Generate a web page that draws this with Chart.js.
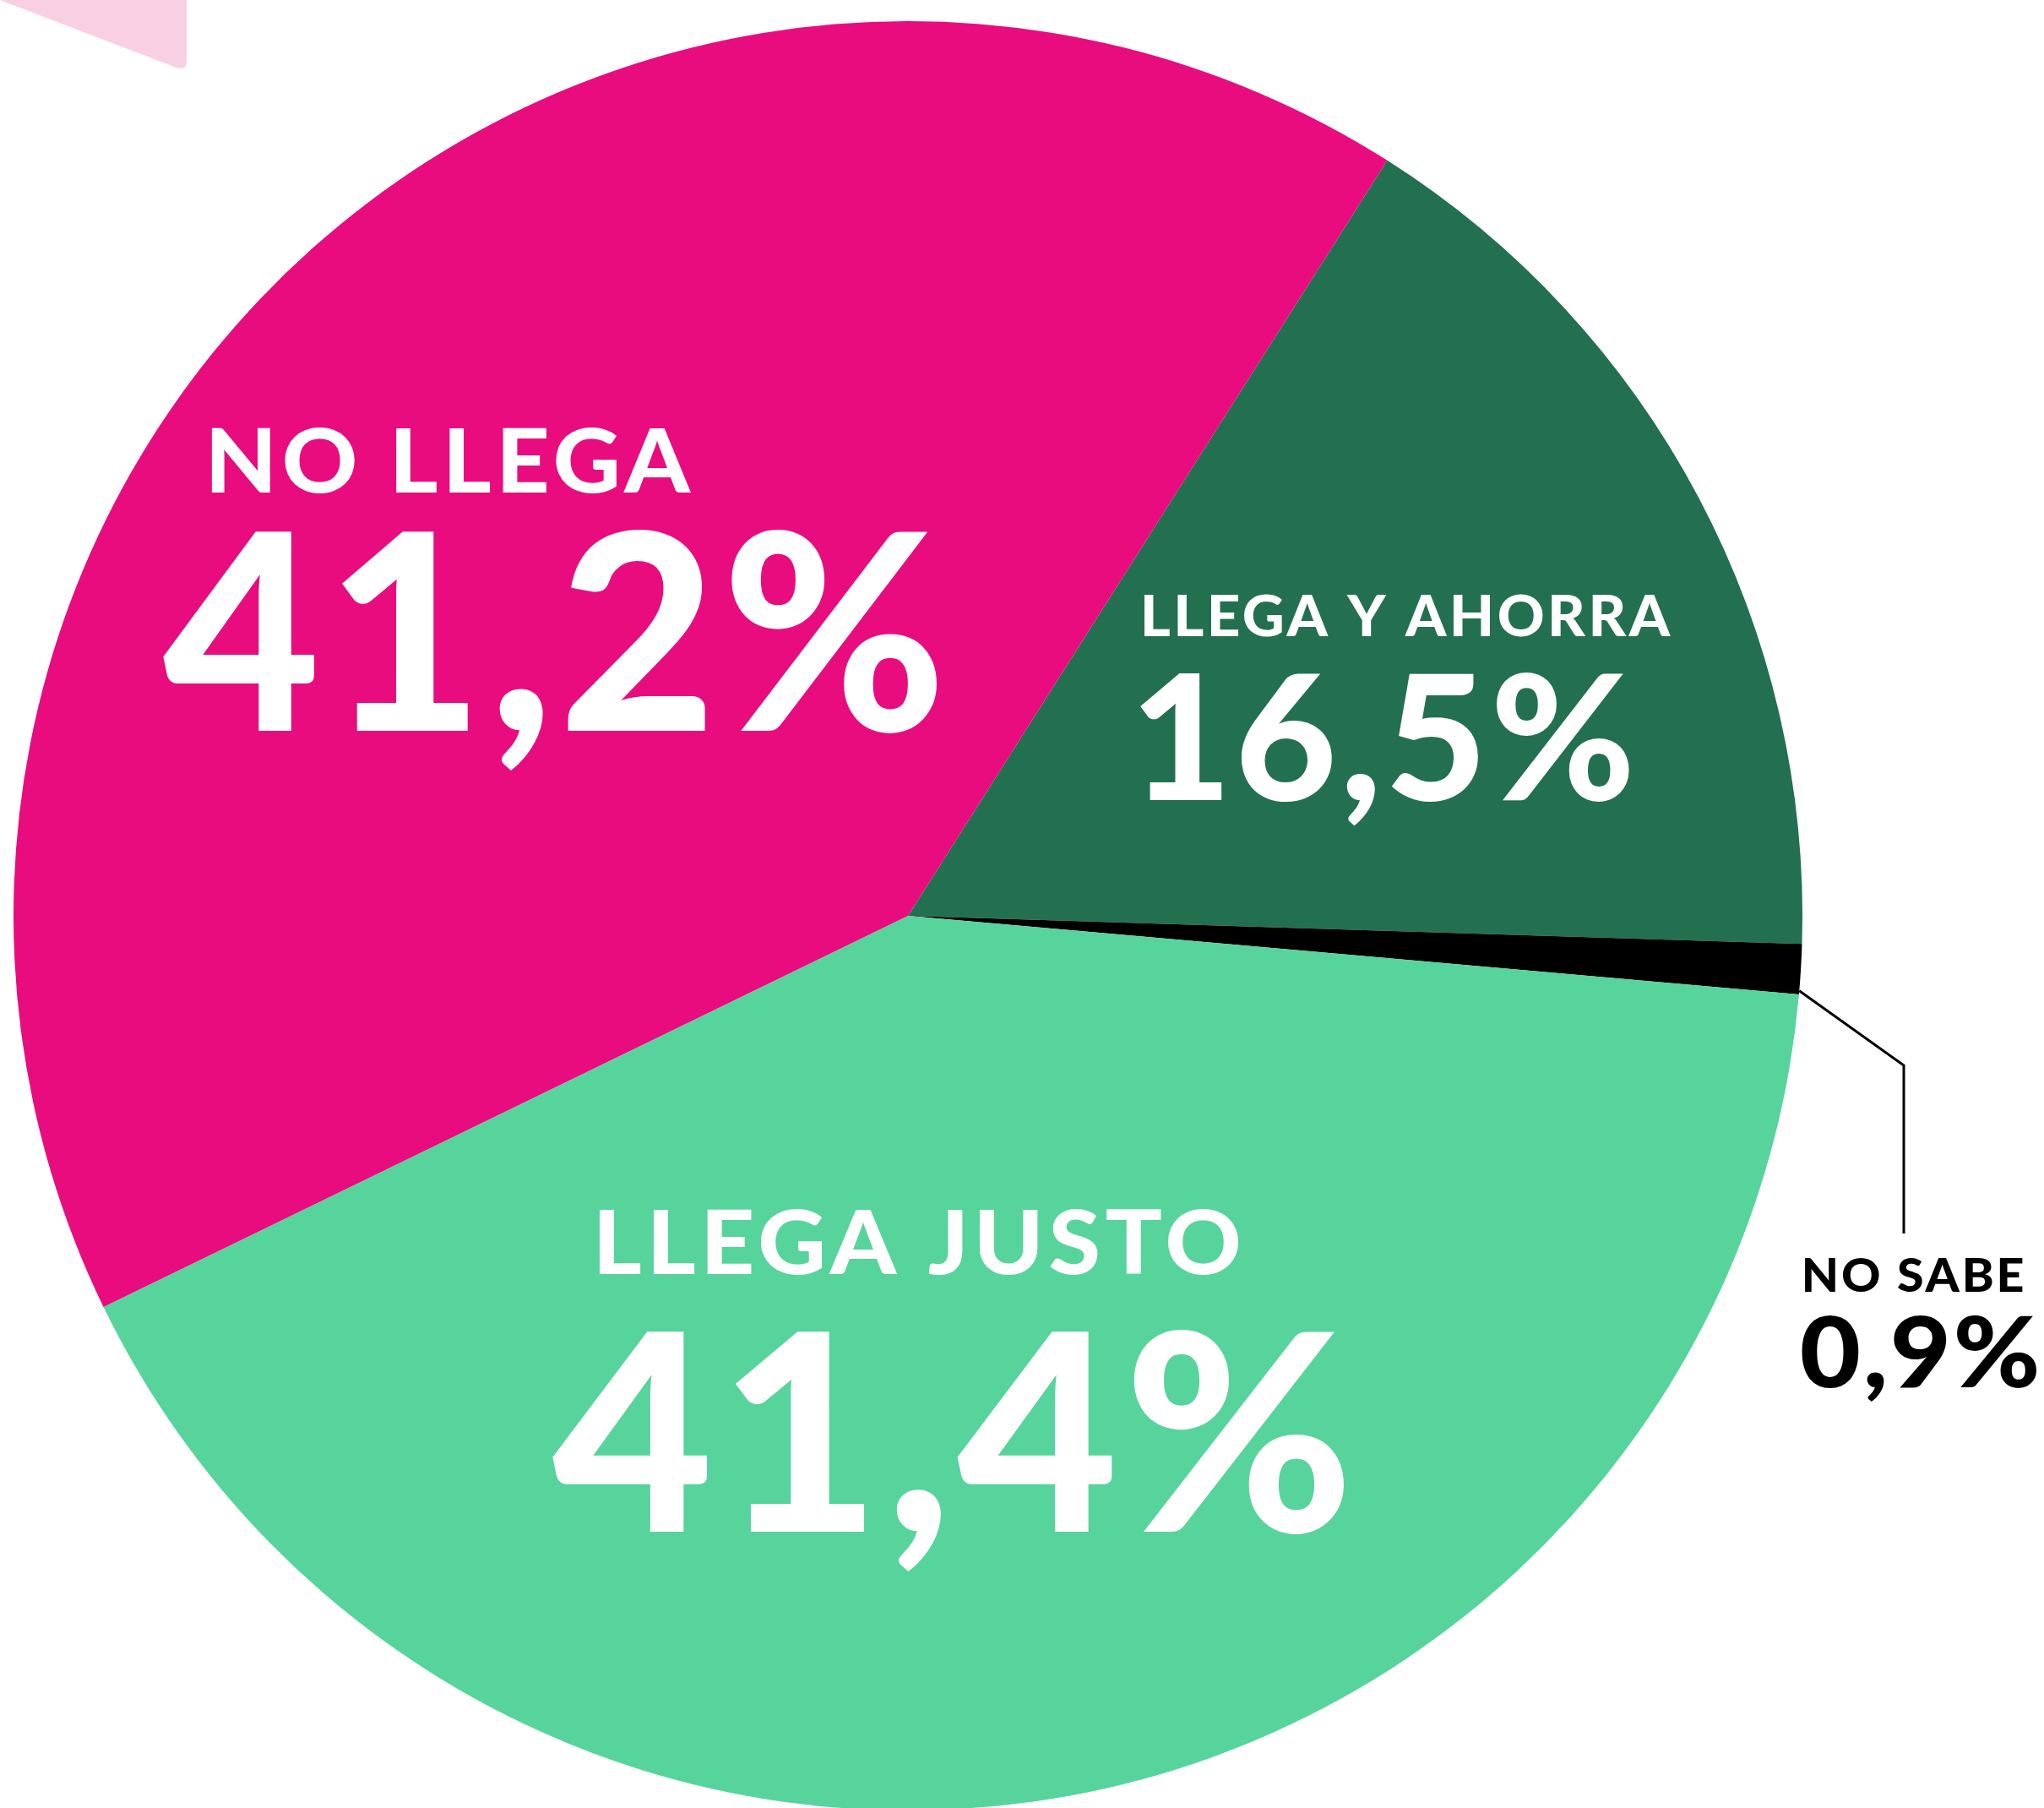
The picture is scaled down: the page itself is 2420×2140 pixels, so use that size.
<!DOCTYPE html>
<html>
<head>
<meta charset="utf-8">
<script src="https://cdn.jsdelivr.net/npm/chart.js@4.4.1/dist/chart.umd.min.js"></script>
<style>
  html, body { margin: 0; padding: 0; background: #fff; overflow: hidden; }
  #wrap { position: relative; width: 2420px; height: 2140px; overflow: hidden; }
  canvas { display: block; }
</style>
</head>
<body>
<div id="wrap">
  <canvas id="pieChart" width="2420" height="2150"></canvas>
</div>
<script>
// slices in drawing order, clockwise from the top-right boundary
const categories = ['LLEGA Y AHORRA', 'NO SABE', 'LLEGA JUSTO', 'NO LLEGA'];
const values = [16.5, 0.9, 41.4, 41.2];
const sliceColors = ['#237050', '#000000', '#57D49C', '#E80C7F'];

// where each label sits (left x, baseline, cap height, ink width) - layout only
const labelLayout = [
    { head: [1355, 753, 48, 623], num: [1350, 947, 150, 579], color: '#fff' },
    { head: [2137, 1529, 40, 258], num: [2133, 1642, 85, 279], color: '#000' },
    { head: [710, 1508, 77, 756], num: [654, 1813, 238, 939], color: '#fff' },
    { head: [251, 583, 77, 567], num: [193, 865, 237, 918], color: '#fff' }
];

const FONT = 'Lato';

function fmt(v) {
    return v.toFixed(1).replace('.', ',') + '%';
}

function fitText(ctx, text, box, color, spacing) {
    const [x, base, cap, w] = box;
    ctx.font = `900 100px ${FONT}`;
    ctx.letterSpacing = '0px';
    const capRatio = ctx.measureText('H').actualBoundingBoxAscent / 100;
    const size = cap / capRatio;
    ctx.font = `900 ${size}px ${FONT}`;
    ctx.letterSpacing = (spacing * size) + 'px';
    const m = ctx.measureText(text);
    const ink = m.actualBoundingBoxLeft + m.actualBoundingBoxRight;
    ctx.save();
    ctx.translate(x, base);
    ctx.scale(w / ink, 1);
    ctx.fillStyle = color;
    ctx.textBaseline = 'alphabetic';
    ctx.textAlign = 'left';
    ctx.fillText(text, m.actualBoundingBoxLeft, 0);
    ctx.restore();
}

const labelsPlugin = {
    id: 'sliceLabels',
    afterDraw(chart) {
        const ctx = chart.ctx;
        const meta = chart.getDatasetMeta(0);

        // pale pink corner shape top-left
        ctx.save();
        ctx.fillStyle = '#F8CFE3';
        ctx.beginPath();
        ctx.moveTo(0, -2);
        ctx.lineTo(221, -2);
        ctx.lineTo(221, 72);
        ctx.quadraticCurveTo(221, 84, 209, 80);
        ctx.lineTo(0, 0);
        ctx.closePath();
        ctx.fill();
        ctx.restore();

        // leader line for the tiny slice
        const arc = meta.data[1];
        const a = arc.endAngle - 0.004;
        ctx.save();
        ctx.strokeStyle = '#000';
        ctx.lineWidth = 3;
        ctx.beginPath();
        ctx.moveTo(arc.x + arc.outerRadius * Math.cos(a), arc.y + arc.outerRadius * Math.sin(a));
        ctx.lineTo(2254, 1261);
        ctx.lineTo(2254, 1460);
        ctx.stroke();
        ctx.restore();

        categories.forEach((name, i) => {
            const lay = labelLayout[i];
            fitText(ctx, name, lay.head, lay.color, 0.05);
            fitText(ctx, fmt(values[i]), lay.num, lay.color, 0.02);
        });
    }
};

new Chart(document.getElementById('pieChart'), {
    type: 'pie',
    data: {
        labels: categories,
        datasets: [{
            data: values,
            backgroundColor: sliceColors,
            borderWidth: 0
        }]
    },
    options: {
        responsive: false,
        devicePixelRatio: 1,
        animation: false,
        rotation: 32.4,
        layout: {
            padding: { left: 16, top: 25, right: 286, bottom: 7 }
        },
        plugins: {
            legend: { display: false },
            tooltip: { enabled: false },
            title: { display: false }
        }
    },
    plugins: [labelsPlugin]
});
</script>
</body>
</html>
